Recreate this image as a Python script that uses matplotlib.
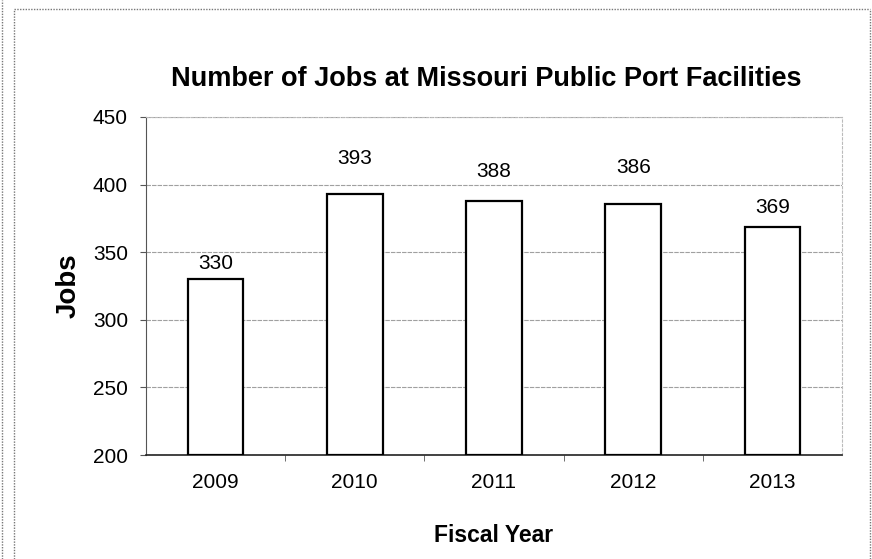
import matplotlib.pyplot as plt
from matplotlib.lines import Line2D

years = ["2009", "2010", "2011", "2012", "2013"]
jobs = [330, 393, 388, 386, 369]
# distance (pixels) from bar top to label centre, as in the original
label_gap = [16, 36, 29, 36, 19]

plt.rcParams["font.family"] = ["Liberation Sans", "DejaVu Sans"]

fig = plt.figure(figsize=(8.72, 5.59), dpi=100)
ax = fig.add_axes([0.1674, 0.186, 0.7982, 0.6047])

x = range(len(years))
bars = ax.bar(x, [j - 200 for j in jobs], bottom=200, width=0.4,
              color="white", edgecolor="black", linewidth=1.6, zorder=3)

for b, v, g in zip(bars, jobs, label_gap):
    ax.annotate(str(v), (b.get_x() + b.get_width() / 2, v),
                xytext=(0, g), textcoords="offset pixels",
                ha="center", va="center", fontsize=15)

ax.set_ylim(200, 450)
ax.set_xlim(-0.5, len(years) - 0.5)
ax.set_yticks(range(200, 451, 50))
ax.set_xticks(list(x))
ax.set_xticklabels(years)
ax.set_xticks([i + 0.5 for i in range(len(years) - 1)], minor=True)
ax.tick_params(axis="both", labelsize=15, length=4, color="#555555")
ax.tick_params(axis="y", pad=9)
ax.tick_params(axis="x", which="major", length=0, pad=13)
ax.tick_params(axis="x", which="minor", length=4, color="#555555")
ax.grid(axis="y", color="#a0a0a0", linewidth=0.8, linestyle=(0, (4, 1)), zorder=0)

for s in ["top", "right"]:
    ax.spines[s].set_color("#bbbbbb")
    ax.spines[s].set_linestyle((0, (2, 2)))
ax.spines["left"].set_color("#555555")
ax.spines["left"].set_linestyle((0, (1, 1)))
ax.spines["bottom"].set_color("#222222")
ax.spines["bottom"].set_linewidth(1.2)

ax.set_title("Number of Jobs at Missouri Public Port Facilities",
             fontsize=19.5, fontweight="bold", pad=22, x=0.489)
ax.set_ylabel("Jobs", fontsize=20, fontweight="bold", labelpad=8)
ax.set_xlabel("Fiscal Year", fontsize=16.5, fontweight="bold", labelpad=23)

# chart frame like the scanned original
W, H = 872, 559
frame = dict(color="#777777", linewidth=1.0, linestyle=(0, (1, 1)),
             transform=fig.transFigure)
fig.add_artist(Line2D([2 / W, 2 / W], [0, 1], **frame))
fig.add_artist(Line2D([14 / W, 14 / W], [0, 1 - 9 / H], **frame))
fig.add_artist(Line2D([14 / W, 870 / W], [1 - 9 / H, 1 - 9 / H], **frame))
fig.add_artist(Line2D([870 / W, 870 / W], [0, 1 - 9 / H], **frame))

fig.savefig("out.png", dpi=100)
